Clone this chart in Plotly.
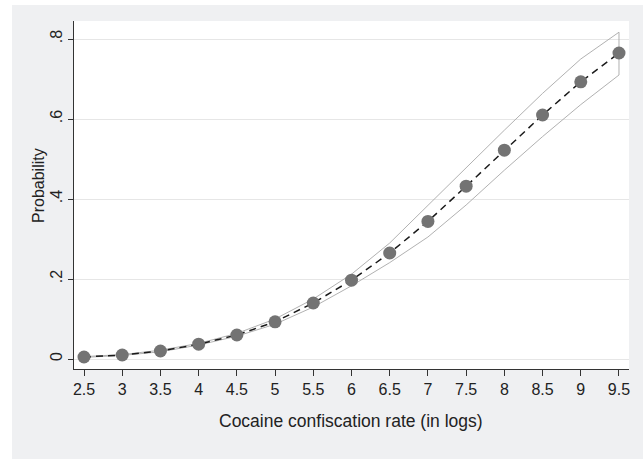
import plotly.graph_objects as go

x_vals = [2.5, 3, 3.5, 4, 4.5, 5, 5.5, 6, 6.5, 7, 7.5, 8, 8.5, 9, 9.5]
prob = [0.005, 0.010, 0.020, 0.037, 0.060, 0.093, 0.140, 0.197, 0.265, 0.344, 0.432, 0.522, 0.610, 0.693, 0.765]
upper = [0.006, 0.011, 0.022, 0.039, 0.064, 0.100, 0.150, 0.212, 0.290, 0.384, 0.479, 0.572, 0.664, 0.750, 0.817]
lower = [0.004, 0.009, 0.018, 0.035, 0.057, 0.087, 0.130, 0.183, 0.241, 0.305, 0.385, 0.472, 0.556, 0.636, 0.710]

y_tickvals = [0, 0.2, 0.4, 0.6, 0.8]
y_ticktext = ["0", ".2", ".4", ".6", ".8"]

fig = go.Figure()

# confidence band outline (closed polygon)
fig.add_trace(go.Scatter(
    x=x_vals + x_vals[::-1] + [x_vals[0]],
    y=upper + lower[::-1] + [upper[0]],
    mode="lines",
    line=dict(color="#a8a8a8", width=0.9),
    hoverinfo="skip",
    showlegend=False,
))

fig.add_trace(go.Scatter(
    x=x_vals, y=prob,
    mode="lines+markers",
    line=dict(color="#1a1a1a", width=1.5, dash="7px,5px"),
    marker=dict(color="#737373", size=13, line=dict(width=0)),
    showlegend=False,
))

font_family = "Liberation Sans, Arial, Helvetica, sans-serif"

L, R, T, B = 74, 14, 21, 90
W, H = 643, 459
pw, ph = W - L - R, H - T - B

def px_x(px):
    return (px - L) / pw

def px_y(py):
    return (H - B - py) / ph

fig.update_layout(
    width=W, height=H,
    margin=dict(l=L, r=R, t=T, b=B),
    paper_bgcolor="white",
    plot_bgcolor="rgba(0,0,0,0)",
    font=dict(family=font_family, size=16, color="#222222"),
    shapes=[
        dict(type="rect", xref="paper", yref="paper", x0=px_x(12), x1=px_x(660), y0=px_y(470), y1=px_y(5),
             fillcolor="#eff0f2", line=dict(width=0), layer="below"),
        dict(type="rect", xref="paper", yref="paper", x0=0, x1=1, y0=0, y1=1,
             fillcolor="white", line=dict(width=0), layer="below"),
    ],
    annotations=[
        dict(text="Cocaine confiscation rate (in logs)", xref="paper", yref="paper",
             x=px_x(351), y=px_y(421), xanchor="center", yanchor="middle",
             showarrow=False, font=dict(size=17.5, color="#222222")),
        dict(text="Probability", xref="paper", yref="paper",
             x=px_x(38), y=px_y(186), xanchor="center", yanchor="middle", textangle=-90,
             showarrow=False, font=dict(size=16, color="#222222")),
    ],
    xaxis=dict(
        range=[2.369, 9.631],
        tickvals=x_vals,
        ticktext=[("%g" % v) for v in x_vals],
        showgrid=False, zeroline=False,
        showline=True, linecolor="#333333", linewidth=1,
        ticks="outside", ticklen=6, tickcolor="#333333", tickwidth=1,
        tickfont=dict(size=16),
    ),
    yaxis=dict(
        range=[-0.025, 0.845],
        tickvals=y_tickvals,
        ticktext=y_ticktext,
        tickangle=-90,
        showgrid=True, gridcolor="#e6e6e6", gridwidth=1,
        zeroline=False,
        showline=True, linecolor="#333333", linewidth=1,
        ticks="outside", ticklen=5, tickcolor="#333333", tickwidth=1,
        tickfont=dict(size=16),
    ),
)

fig.write_html(
    "out.html",
    config={"displayModeBar": False},
    post_script="document.body.style.margin='0px';document.body.style.overflow='hidden';",
)
